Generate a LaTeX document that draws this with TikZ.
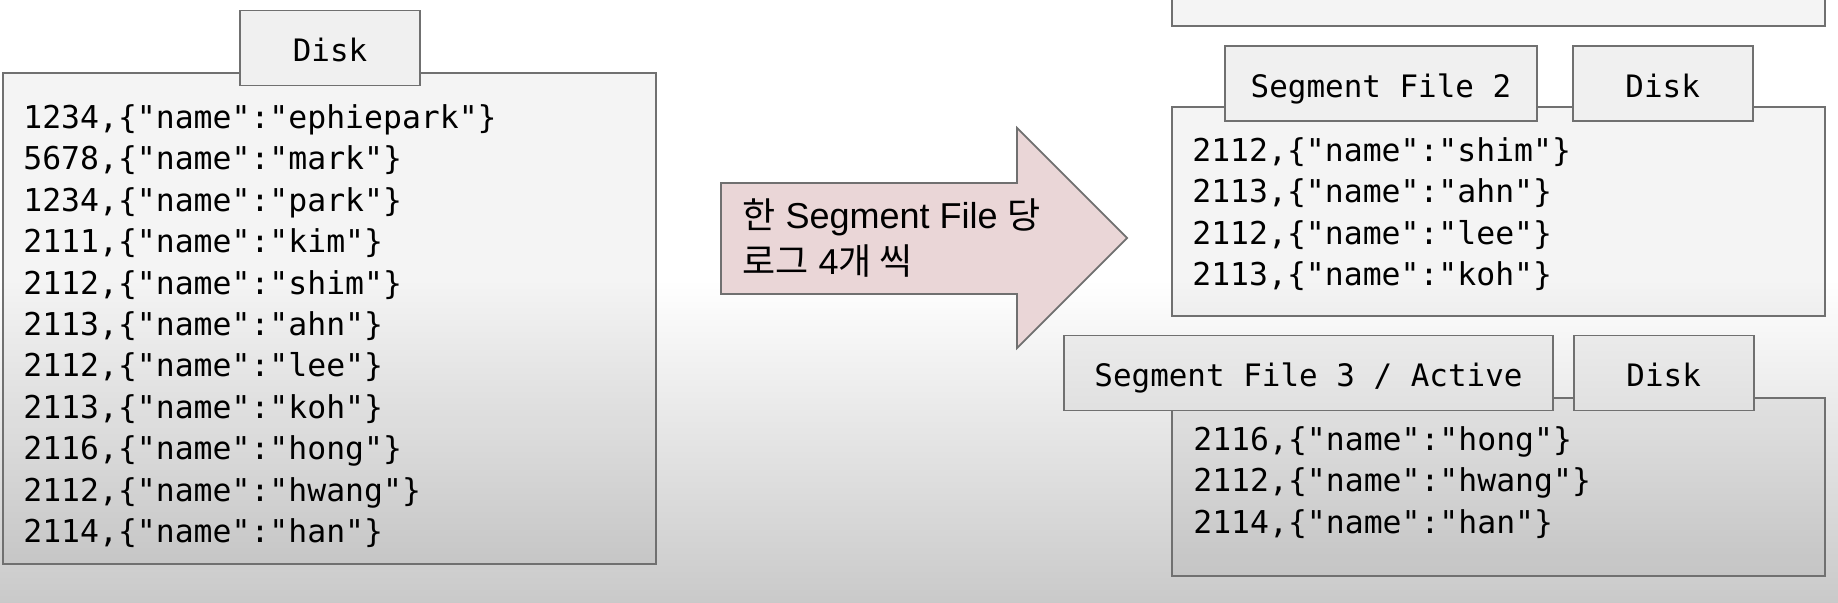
\documentclass[tikz,border=0pt]{standalone}
\usepackage{fontspec}
\setmainfont{Liberation Sans}
\newfontfamily\codefont{DejaVu Sans Mono}
\newfontfamily\korfont{Noto Sans CJK KR}
\usetikzlibrary{positioning}

\definecolor{boxline}{RGB}{112,112,112}
\definecolor{arrowpink}{RGB}{234,214,215}

\tikzset{
    logbox/.style={draw=boxline, line width=1pt, fill=black, fill opacity=0.045},
    tabbox/.style={draw=boxline, line width=1pt, fill=black!6, inner sep=0pt,
        font=\codefont\fontsize{17.6}{21}\selectfont,
        text height=1.54em, text depth=0pt, minimum height=1.5cm},
    logline/.style={anchor=west, inner sep=0pt,
        font=\codefont\fontsize{17.9}{21}\selectfont,
        text height=0.73em, text depth=0pt},
    arrowtext/.style={anchor=west, inner sep=0pt,
        font=\fontsize{20.5}{25}\selectfont,
        text height=0.716em, text depth=0pt},
}

\begin{document}
\begin{tikzpicture}[x=0.02cm, y=-0.02cm]
    % Hintergrund
    \useasboundingbox (0,0) rectangle (1838,602);
    \clip (0,0) rectangle (1838,602);
    \fill[white] (0,0) rectangle (1838,280);
    \shade[top color=white, bottom color=black!21] (0,280) rectangle (1838,602);

    % Disk (alle Logs)
    \draw[logbox] (3,73) rectangle (656,564);
    \node[tabbox, minimum width=3.6cm] (disk) at (330,48) {Disk};
    \foreach \key/\val [count=\i] in {1234/ephiepark, 5678/mark, 1234/park,
        2111/kim, 2112/shim, 2113/ahn, 2112/lee, 2113/koh, 2116/hong,
        2112/hwang, 2114/han}
        \node[logline] (log\i) at (23,{122+41.4*(\i-1)}) {\key,\{"name":"\val"\}};

    % Pfeil
    \draw[draw=boxline, line width=1pt, fill=arrowpink]
        (721,183) -- (1017,183) -- (1017,128) -- (1127,238)
        -- (1017,348) -- (1017,294) -- (721,294) -- cycle;
    \node[arrowtext] (rule1) at (742,222) {{\korfont 한} Segment File {\korfont 당}};
    \node[arrowtext] (rule2) at (742,268) {{\korfont 로그} 4{\korfont 개 씩}};

    % Segment File 1
    \draw[logbox] (1172,-100) rectangle (1825,26);
    \node[logline] (segA) at (1192,-12) {2111,\{"name":"kim"\}};

    % Segment File 2
    \draw[logbox] (1172,107) rectangle (1825,316);
    \node[tabbox, minimum width=6.24cm] (seg2) at (1381,83.5) {Segment File 2};
    \node[tabbox, minimum width=3.6cm, right=0.68cm of seg2] (disk2) {Disk};
    \foreach \key/\val [count=\i] in {2112/shim, 2113/ahn, 2112/lee, 2113/koh}
        \node[logline] (segB\i) at (1192,{155+41.5*(\i-1)}) {\key,\{"name":"\val"\}};

    % Segment File 3
    \draw[logbox] (1172,398) rectangle (1825,576);
    \node[tabbox, top color=black!8, bottom color=black!12, minimum width=9.78cm]
        (seg3) at (1308.5,373) {Segment File 3 / Active};
    \node[tabbox, top color=black!8, bottom color=black!12, minimum width=3.6cm,
        right=0.38cm of seg3] (disk3) {Disk};
    \foreach \key/\val [count=\i] in {2116/hong, 2112/hwang, 2114/han}
        \node[logline] (segC\i) at (1193,{444+41.5*(\i-1)}) {\key,\{"name":"\val"\}};
\end{tikzpicture}
\end{document}
